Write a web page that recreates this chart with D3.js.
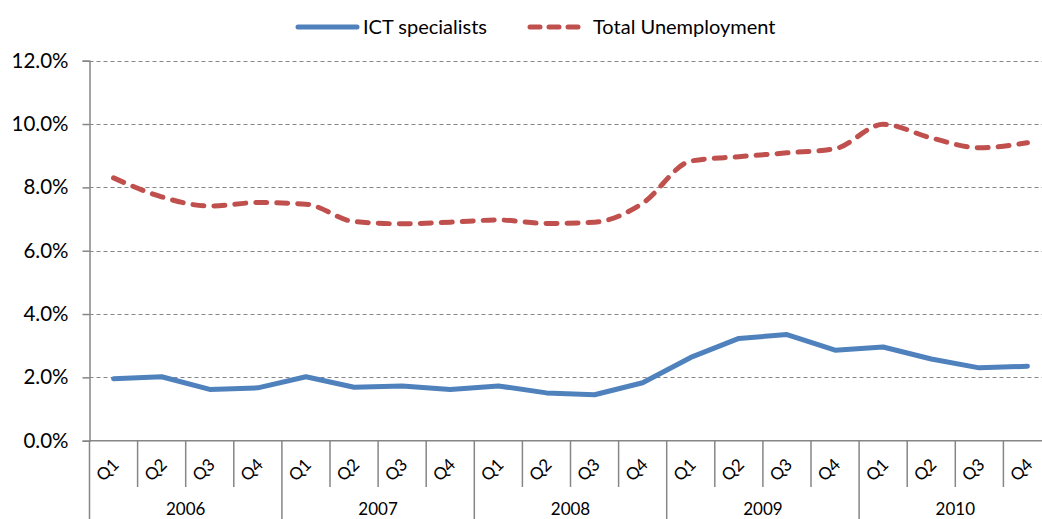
<!DOCTYPE html>
<html>
<head>
<meta charset="utf-8">
<script src="https://cdn.jsdelivr.net/npm/d3@7"></script>
<style>
  body { margin: 0; background: #fff; }
  svg { display: block; font-family: Lato, "Open Sans", sans-serif; }
</style>
</head>
<body>
<div id="chart"></div>
<script>

// Data.
var years = ['2006', '2007', '2008', '2009', '2010'];
var quarters = ['Q1', 'Q2', 'Q3', 'Q4'];
var ictSpecialists = [
  1.96, 2.02, 1.62, 1.67,
  2.02, 1.69, 1.73, 1.62,
  1.73, 1.51, 1.45, 1.83,
  2.63, 3.23, 3.35, 2.86,
  2.96, 2.58, 2.30, 2.35
];
var totalUnemployment = [
  8.30, 7.70, 7.41, 7.52,
  7.47, 6.92, 6.85, 6.90,
  6.97, 6.86, 6.90, 7.50,
  8.83, 8.97, 9.09, 9.22,
  9.99, 9.56, 9.25, 9.41
];
var yTicks = [0, 2, 4, 6, 8, 10, 12];

var W = 1042, H = 519;
var plotLeft = 89.5, plotRight = 1051.5, plotTop = 60.7, plotBottom = 440.7;

var svg = d3.select('#chart').append('svg')
  .attr('width', W).attr('height', H);

// One slot per quarter, year by year.
var slots = [];
years.forEach(function(yr) {
  quarters.forEach(function(q) { slots.push({ year: yr, q: q }); });
});

var x = d3.scaleBand()
  .domain(d3.range(slots.length))
  .range([plotLeft, plotRight]);

var y = d3.scaleLinear().domain([0, 12]).range([plotBottom, plotTop]);

var grey = '#868686';

// Horizontal gridlines.
svg.append('g').selectAll('line')
  .data(yTicks.filter(function(d) { return d > 0; }))
  .enter().append('line')
  .attr('x1', plotLeft).attr('x2', plotRight)
  .attr('y1', function(d) { return Math.round(y(d)) + 0.5; })
  .attr('y2', function(d) { return Math.round(y(d)) + 0.5; })
  .attr('stroke', grey).attr('stroke-width', 1)
  .attr('stroke-dasharray', '4,3');

// Y axis.
var yAxis = d3.axisLeft(y)
  .tickValues(yTicks)
  .tickSize(7)
  .tickPadding(14)
  .tickFormat(function(d) { return d.toFixed(1) + '%'; });

var gy = svg.append('g')
  .attr('transform', 'translate(' + plotLeft + ',0)')
  .call(yAxis);
gy.select('.domain').attr('stroke', grey).attr('stroke-width', 1.5);
gy.selectAll('.tick line').attr('stroke', grey).attr('stroke-width', 1.5);
gy.selectAll('.tick text')
  .attr('fill', '#000').style('font-size', '20.5px')
  .style('font-family', 'Lato, sans-serif');

// X axis baseline.
svg.append('line')
  .attr('x1', plotLeft).attr('x2', plotRight)
  .attr('y1', plotBottom).attr('y2', plotBottom)
  .attr('stroke', grey).attr('stroke-width', 1.5);

// Quarter separators, year separators run longer.
svg.append('g').selectAll('line')
  .data(d3.range(slots.length + 1))
  .enter().append('line')
  .attr('x1', function(i) { return x.step() * i + plotLeft; })
  .attr('x2', function(i) { return x.step() * i + plotLeft; })
  .attr('y1', plotBottom)
  .attr('y2', function(i) { return i % 4 === 0 ? H : 487; })
  .attr('stroke', grey).attr('stroke-width', 1.5);

// Quarter labels, tilted.
svg.append('g').selectAll('text')
  .data(slots)
  .enter().append('text')
  .attr('transform', function(d, i) {
    return 'translate(' + (x(i) + x.bandwidth() / 2 - 5) + ',471) rotate(-45)';
  })
  .attr('text-anchor', 'middle')
  .attr('dominant-baseline', 'middle')
  .style('font-size', '17px')
  .text(function(d) { return d.q; });

// Year labels.
svg.append('g').selectAll('text')
  .data(years)
  .enter().append('text')
  .attr('x', function(d, i) { return x(i * 4) + x.step() * 2; })
  .attr('y', 515)
  .attr('text-anchor', 'middle')
  .style('font-size', '17px')
  .text(function(d) { return d; });

// Series lines.
var line = d3.line()
  .x(function(d, i) { return x(i) + x.bandwidth() / 2; })
  .y(function(d) { return y(d); });

var smooth = d3.line()
  .curve(d3.curveMonotoneX)
  .x(function(d, i) { return x(i) + x.bandwidth() / 2; })
  .y(function(d) { return y(d); });

svg.append('path')
  .datum(totalUnemployment)
  .attr('d', smooth)
  .attr('fill', 'none')
  .attr('stroke', '#C0504D').attr('stroke-width', 5)
  .attr('stroke-linecap', 'round')
  .attr('stroke-dasharray', '11,10');

svg.append('path')
  .datum(ictSpecialists)
  .attr('d', line)
  .attr('fill', 'none')
  .attr('stroke', '#4F81BD').attr('stroke-width', 5)
  .attr('stroke-linejoin', 'round')
  .attr('stroke-linecap', 'round');

// Legend.
var legend = svg.append('g').style('font-size', '20px');

legend.append('line')
  .attr('x1', 298).attr('x2', 357).attr('y1', 27).attr('y2', 27)
  .attr('stroke', '#4F81BD').attr('stroke-width', 5)
  .attr('stroke-linecap', 'round');
legend.append('text')
  .attr('x', 363).attr('y', 34).text('ICT specialists');

legend.append('line')
  .attr('x1', 530).attr('x2', 580).attr('y1', 27).attr('y2', 27)
  .attr('stroke', '#C0504D').attr('stroke-width', 5)
  .attr('stroke-linecap', 'round')
  .attr('stroke-dasharray', '10,9');
legend.append('text')
  .attr('x', 593).attr('y', 34).text('Total Unemployment');

</script>
</body>
</html>
